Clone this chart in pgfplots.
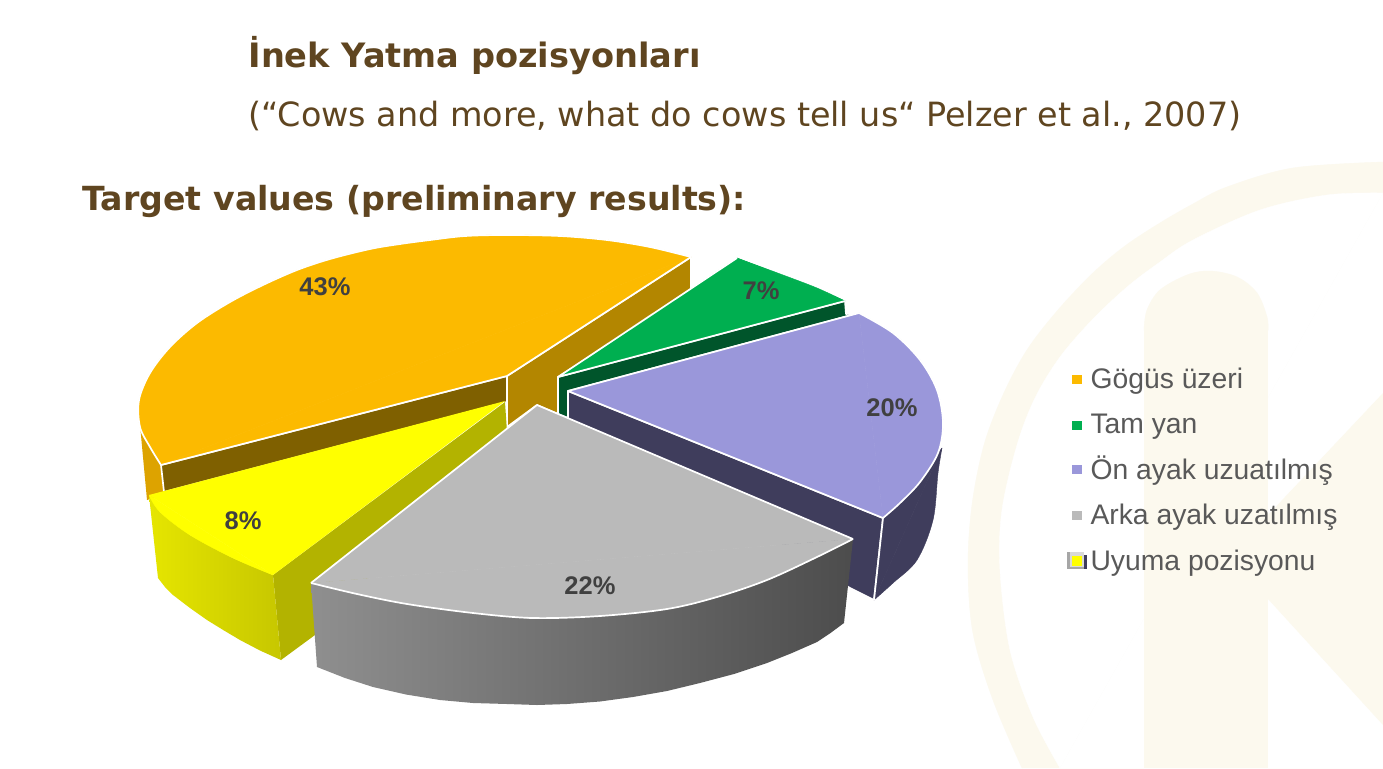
\documentclass[border=0pt]{standalone}
\usepackage{fontspec}
\setmainfont{Liberation Sans}
\newfontfamily\titlefont{DejaVu Sans}
\usepackage{pgfplots}
\pgfplotsset{compat=1.18}

\definecolor{cream}{HTML}{FCF9EE}
\definecolor{titlebrown}{HTML}{5F4520}
\definecolor{goldtop}{HTML}{FCBA00}
\definecolor{goldside}{HTML}{B38600}
\definecolor{goldrim}{HTML}{DDA300}
\definecolor{goldin}{HTML}{7F6000}
\definecolor{greentop}{HTML}{00AF50}
\definecolor{greenside}{HTML}{00552B}
\definecolor{lilac}{HTML}{9A97DA}
\definecolor{lilacside}{HTML}{3F3D5C}
\definecolor{greytop}{HTML}{BABABA}
\definecolor{yellowtop}{HTML}{FFFF00}
\definecolor{yellowside}{HTML}{B3B300}
\definecolor{labelgrey}{HTML}{404040}
\definecolor{legendgrey}{HTML}{595959}

\begin{document}
\begin{tikzpicture}
\begin{axis}[
    width=1383pt, height=768pt, scale only axis,
    xmin=0, xmax=1383, ymin=0, ymax=768,
    y dir=reverse,
    hide axis,
    flat/.style={draw=none, line join=round},
    face/.style={fill=#1, draw=#1, line width=0.4pt, line join=round},
    edge/.style={draw=white, line width=1.7pt, line join=round},
    curved/.style={smooth, tension=0.55},
    every node/.append style={inner sep=0pt, outer sep=0pt},
]
% background
\addplot[fill=white, flat] coordinates {(0,0) (1383,0) (1383,768) (0,768)} --cycle;

% watermark: ring, bar, K arms
\addplot[face=cream, curved] coordinates {
    (1022,768) (993,700) (973,633) (968,567) (972,505) (984,445) (1003,395) (1027,350)
    (1058,310) (1093,273) (1125,246) (1160,223) (1193,204) (1227,187) (1293,168) (1383,162)
} --cycle;
\addplot[fill=cream, flat] coordinates {(1022,768) (1383,162) (1383,768)} --cycle;
\addplot[face=white, curved] coordinates {
    (1060,768) (1033,717) (1010,650) (1000,570) (1002,510) (1017,445) (1035,398) (1060,357)
    (1092,320) (1127,287) (1160,262) (1193,240) (1260,210) (1327,195) (1383,193)
} --cycle;
\addplot[fill=white, flat] coordinates {(1060,768) (1383,193) (1383,768)} --cycle;
\addplot[face=cream, curved] coordinates {
    (1144,330) (1147,310) (1160,290) (1187,275) (1210,271)
    (1237,277) (1257,293) (1267,317) (1268,330)
} --cycle;
\addplot[fill=cream, flat] coordinates {(1144,330) (1268,330) (1268,768) (1144,768)} --cycle;
\addplot[fill=cream, flat] coordinates {(1268,515) (1383,393) (1383,725) (1268,599)} --cycle;

% Gogus uzeri 43: sides
\addplot[fill=goldrim, flat] coordinates {(139,414) (142,430) (150,447) (161,465) (164,495) (147,500)} --cycle;
\addplot[fill=goldside, edge] coordinates {(507,376) (691,257) (691,291) (558,377) (558,414) (537,405) (507,427)} --cycle;
\addplot[fill=goldin, edge] coordinates {(161,465) (507,376) (507,402) (164,492)} --cycle;

% Uyuma pozisyonu 8
\addplot[fill=yellowside, flat] coordinates {(505,402) (273,575) (281,660) (315,635) (507,432)} --cycle;
\addplot[left color=yellowtop!90!black, right color=yellowtop!78!black, flat] coordinates {
    (149,495) (160,512) (190,535) (233,558) (273,575) (281,660) (260,650.5) (240,640)
    (224,630.5) (207,620) (190,608) (173,595) (165,587) (158,578)
} --cycle;
\addplot[face=yellowtop, curved] coordinates {(149,495) (160,512) (190,535) (233,558) (273,575)} --cycle;
\addplot[fill=yellowtop, flat] coordinates {(505,401) (273,575) (149,495)} --cycle;

% Gogus uzeri 43: top
\addplot[face=goldtop, curved] coordinates {
    (691,257) (650,247) (607,240) (560,236) (507,235) (465,236) (430,240) (400,244)
    (370,249) (330,259) (297,270) (263,285) (230,302) (197,323) (170,347) (150,373)
    (139,400) (140,427) (150,447) (161,465)
} --cycle;
\addplot[face=goldtop] coordinates {(507,376) (691,257) (161,465)} --cycle;
\addplot[edge, curved] coordinates {
    (691,257) (650,247) (607,240) (560,236) (507,235) (465,236) (430,240) (400,244)
    (370,249) (330,259) (297,270) (263,285) (230,302) (197,323) (170,347) (150,373)
    (139,400) (140,427) (150,447) (161,465)
};
\addplot[edge] coordinates {(161,465) (507,376) (691,257)};

% Tam yan 7
\addplot[fill=greenside, edge] coordinates {(558,377) (845,301) (846,314) (859,313) (568,391) (568,418) (558,414)} --cycle;
\addplot[face=greentop, curved] coordinates {(737,258) (783,275) (817,288) (845,301)} --cycle;
\addplot[face=greentop] coordinates {(558,377) (737,258) (845,301)} --cycle;
\addplot[edge] coordinates {(845,301) (558,377) (737,258)};

% On ayak uzatilmis 20
\addplot[fill=lilacside, edge] coordinates {(568,391) (883,518) (874,600) (850,588) (568,420)} --cycle;
\addplot[face=lilacside, curved] coordinates {(942,448) (938,473) (933,520) (917,560) (893,583) (874,600)} --cycle;
\addplot[face=lilacside] coordinates {(883,518) (942,448) (874,600)} --cycle;
\addplot[edge] coordinates {(883,518) (874,600)};
\addplot[face=lilac, curved] coordinates {
    (859,313) (893,333) (920,360) (937,390) (943,423) (938,453) (920,482) (900,503) (883,518)
} --cycle;
\addplot[face=lilac] coordinates {(568,391) (859,313) (883,518)} --cycle;
\addplot[edge, curved] coordinates {
    (859,313) (893,333) (920,360) (937,390) (943,423) (938,453) (920,482) (900,503) (883,518)
};
\addplot[edge] coordinates {(883,518) (568,391) (859,313)};

% Arka ayak uzatilmis 22
\addplot[left color=black!44, middle color=black!66, right color=black!70, flat] coordinates {
    (311,583) (407,604) (533,619) (667,609) (767,580) (853,539) (844,623) (830.5,633) (817,642)
    (792,653) (767,663) (734,674) (700,683) (667,691) (633,697) (600,701.5) (567,704)
    (537,705) (507,704) (473,703) (440,700) (406,694.5) (373,687) (345,678) (317,667)
} --cycle;
\addplot[face=greytop, curved] coordinates {
    (853,539) (817,557) (767,580) (717,597) (667,609) (600,616) (533,618) (473,613)
    (407,604) (357,594) (311,583)
} --cycle;
\addplot[face=greytop] coordinates {(537,405) (853,539) (311,583)} --cycle;
\addplot[edge, curved] coordinates {
    (853,539) (817,557) (767,580) (717,597) (667,609) (600,616) (533,618) (473,613)
    (407,604) (357,594) (311,583)
};
\addplot[edge] coordinates {(311,583) (537,405) (853,539)};

% legend keys
\addplot[fill=goldtop, flat] coordinates {(1072,375) (1082,375) (1082,384) (1072,384)} --cycle;
\addplot[fill=greentop, flat] coordinates {(1072,421) (1082,421) (1082,430) (1072,430)} --cycle;
\addplot[fill=lilac, flat] coordinates {(1072,465) (1082,465) (1082,474) (1072,474)} --cycle;
\addplot[fill=greytop, flat] coordinates {(1072,511) (1082,511) (1082,520) (1072,520)} --cycle;
\addplot[fill=black!35, flat] coordinates {(1067,552) (1084,552) (1084,569) (1067,569)} --cycle;
\addplot[fill=white!85!black, flat] coordinates {(1070,552) (1084,552) (1084,567) (1070,567)} --cycle;
\addplot[fill=lilacside, flat] coordinates {(1084,555) (1087,555) (1087,569) (1084,569)} --cycle;
\addplot[fill=yellowtop, flat] coordinates {(1072,556) (1082,556) (1082,566) (1072,566)} --cycle;

% labels
\node[anchor=base west, text=titlebrown, font=\titlefont\bfseries\fontsize{33.6}{38}\selectfont] at (axis cs:245,67) {İnek Yatma pozisyonları};
\node[anchor=base west, text=titlebrown, font=\titlefont\fontsize{33.4}{38}\selectfont] at (axis cs:245,126) {(“Cows and more, what do cows tell us“ Pelzer et al., 2007)};
\node[anchor=base west, text=titlebrown, font=\titlefont\bfseries\fontsize{33.2}{38}\selectfont] at (axis cs:79,210) {Target values (preliminary results):};

\node[text=labelgrey, font=\bfseries\fontsize{25.5}{30}\selectfont] at (axis cs:325,287) {43\%};
\node[text=labelgrey, font=\bfseries\fontsize{25.5}{30}\selectfont] at (axis cs:761,291) {7\%};
\node[text=labelgrey, font=\bfseries\fontsize{25.5}{30}\selectfont] at (axis cs:892,408) {20\%};
\node[text=labelgrey, font=\bfseries\fontsize{25.5}{30}\selectfont] at (axis cs:590,586) {22\%};
\node[text=labelgrey, font=\bfseries\fontsize{25.5}{30}\selectfont] at (axis cs:243,521) {8\%};

\node[anchor=base west, text=legendgrey, font=\fontsize{28.3}{32}\selectfont] at (axis cs:1087,388) {Gögüs üzeri};
\node[anchor=base west, text=legendgrey, font=\fontsize{28.3}{32}\selectfont] at (axis cs:1087,433) {Tam yan};
\node[anchor=base west, text=legendgrey, font=\fontsize{28.3}{32}\selectfont] at (axis cs:1087,479) {Ön ayak uzuatılmış};
\node[anchor=base west, text=legendgrey, font=\fontsize{28.3}{32}\selectfont] at (axis cs:1087,524) {Arka ayak uzatılmış};
\node[anchor=base west, text=legendgrey, font=\fontsize{28.3}{32}\selectfont] at (axis cs:1087,570) {Uyuma pozisyonu};
\end{axis}
\end{tikzpicture}
\end{document}
